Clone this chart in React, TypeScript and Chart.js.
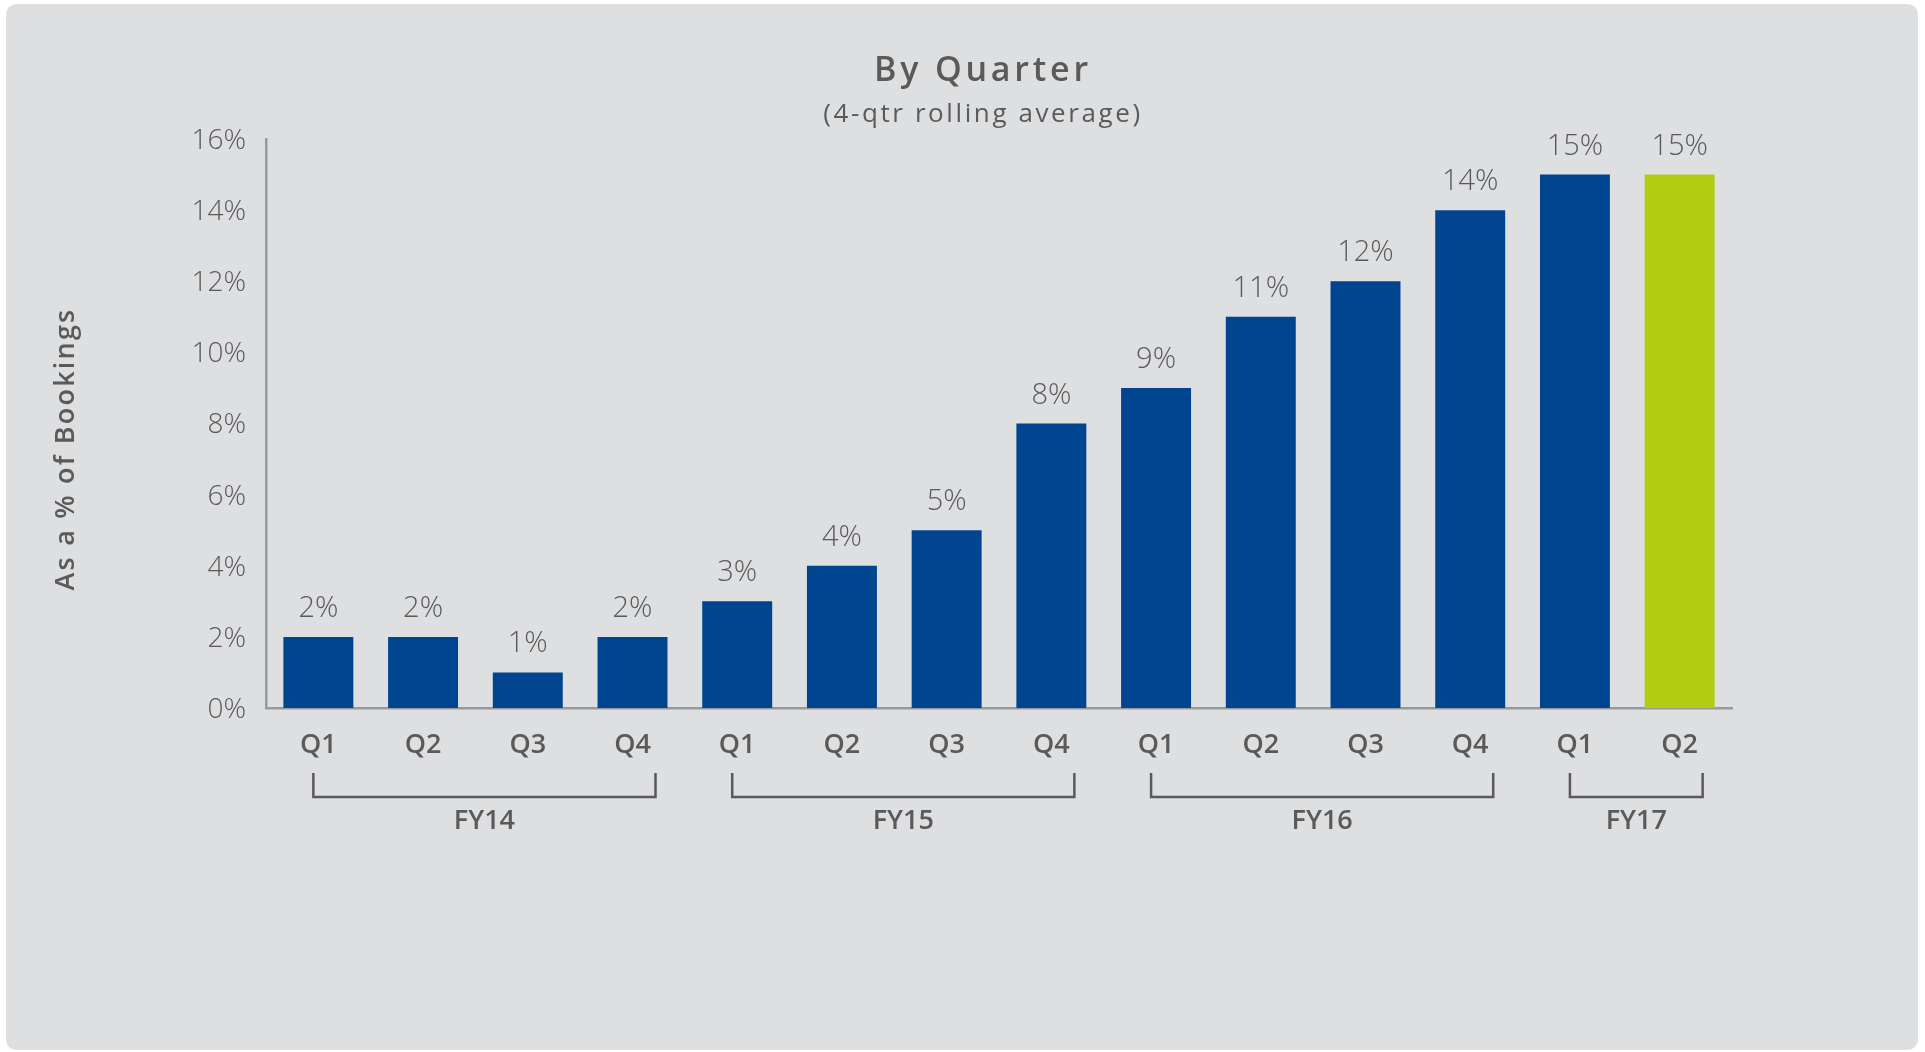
import React, { useEffect, useRef } from 'react';
import { Chart, registerables } from 'chart.js';

Chart.register(...registerables);

// ---- data ----
const quarters = ['Q1', 'Q2', 'Q3', 'Q4', 'Q1', 'Q2', 'Q3', 'Q4', 'Q1', 'Q2', 'Q3', 'Q4', 'Q1', 'Q2'];
const values = [2, 2, 1, 2, 3, 4, 5, 8, 9, 11, 12, 14, 15, 15];
const BLUE = '#01448f';
const GREEN = '#b2cc12';
const barColors = [BLUE, BLUE, BLUE, BLUE, BLUE, BLUE, BLUE, BLUE, BLUE, BLUE, BLUE, BLUE, BLUE, GREEN];
const fiscalYears = ['FY14', 'FY15', 'FY16', 'FY17'];
const fyFirstIndex = [0, 4, 8, 12];
const fyLastIndex = [3, 7, 11, 13];
const yMin = 0;
const yMax = 16;
const yStep = 2;
const titleText = 'By Quarter';
const subtitleText = '(4-qtr rolling average)';
const yTitleText = 'As a % of Bookings';

const FONT = "'Open Sans', sans-serif";
const TEXT = '#5a5a5b';
const AXIS = '#98999d';
const PANEL = '#dedfe1';

const panelPlugin = {
  id: 'panel',
  beforeDraw(chart: any) {
    const ctx = chart.ctx;
    ctx.save();
    ctx.fillStyle = '#ffffff';
    ctx.fillRect(0, 0, chart.width, chart.height);
    const x = 6, y = 4, w = 1912, h = 1046, r = 12;
    ctx.beginPath();
    ctx.moveTo(x + r, y);
    ctx.lineTo(x + w - r, y);
    ctx.quadraticCurveTo(x + w, y, x + w, y + r);
    ctx.lineTo(x + w, y + h - r);
    ctx.quadraticCurveTo(x + w, y + h, x + w - r, y + h);
    ctx.lineTo(x + r, y + h);
    ctx.quadraticCurveTo(x, y + h, x, y + h - r);
    ctx.lineTo(x, y + r);
    ctx.quadraticCurveTo(x, y, x + r, y);
    ctx.closePath();
    ctx.fillStyle = PANEL;
    ctx.fill();
    ctx.restore();
  },
};

const annotationsPlugin = {
  id: 'annotations',
  afterDatasetsDraw(chart: any) {
    const ctx = chart.ctx;
    ctx.save();
    // value labels
    ctx.fillStyle = TEXT;
    ctx.textAlign = 'center';
    ctx.textBaseline = 'alphabetic';
    ctx.font = `300 29px ${FONT}`;
    const meta = chart.getDatasetMeta(0);
    meta.data.forEach((bar: any, i: number) => {
      ctx.fillText(values[i] + '%', bar.x, bar.y - 20);
    });
    ctx.restore();
  },
  afterDraw(chart: any) {
    const ctx = chart.ctx;
    const xs = chart.scales.x;
    ctx.save();
    // title
    ctx.fillStyle = TEXT;
    ctx.textAlign = 'center';
    ctx.textBaseline = 'alphabetic';
    ctx.font = `600 34px ${FONT}`;
    (ctx as any).letterSpacing = '3.8px';
    ctx.fillText(titleText, 983, 81);
    ctx.font = `500 26px ${FONT}`;
    (ctx as any).letterSpacing = '2.6px';
    ctx.fillText(subtitleText, 983, 122);
    (ctx as any).letterSpacing = '0px';

    // y title
    ctx.save();
    ctx.translate(66, 449);
    ctx.rotate(-Math.PI / 2);
    ctx.textBaseline = 'middle';
    ctx.font = `600 27px ${FONT}`;
    (ctx as any).letterSpacing = '2.2px';
    ctx.fillText(yTitleText, 0, 0);
    ctx.restore();
    (ctx as any).letterSpacing = '0px';

    // fiscal year brackets
    ctx.strokeStyle = '#5a5a5c';
    ctx.lineWidth = 2.5;
    ctx.font = `600 27px ${FONT}`;
    fiscalYears.forEach((fy, k) => {
      const left = xs.getPixelForValue(fyFirstIndex[k]) - 5;
      const right = xs.getPixelForValue(fyLastIndex[k]) + 23;
      const top = 773;
      const bottom = 797;
      ctx.beginPath();
      ctx.moveTo(left, top);
      ctx.lineTo(left, bottom);
      ctx.lineTo(right, bottom);
      ctx.lineTo(right, top);
      ctx.stroke();
      ctx.fillText(fy, (left + right) / 2, 829);
    });
    ctx.restore();
  },
};

export default function App() {
  const ref = useRef<HTMLCanvasElement>(null);
  useEffect(() => {
    const canvas = ref.current;
    if (!canvas) return;
    const chart = new Chart(canvas, {
      type: 'bar',
      data: {
        labels: quarters,
        datasets: [
          {
            data: values,
            backgroundColor: barColors,
            barPercentage: 0.668,
            categoryPercentage: 1,
          },
        ],
      },
      options: {
        responsive: false,
        animation: false,
        devicePixelRatio: 1,
        layout: { padding: { top: 139, right: 193, left: 0, bottom: 0 } },
        plugins: {
          legend: { display: false },
          tooltip: { enabled: false },
          title: { display: false },
        },
        scales: {
          x: {
            grid: { display: false, drawTicks: false },
            border: { display: true, color: AXIS, width: 2.5 },
            ticks: {
              color: TEXT,
              font: { family: FONT, size: 27, weight: '600' },
              padding: 21,
              maxRotation: 0,
              autoSkip: false,
            },
            afterFit: (s: any) => {
              s.height = 344;
            },
          },
          y: {
            min: yMin,
            max: yMax,
            grid: { display: false, drawTicks: false },
            border: { display: true, color: AXIS, width: 2.5 },
            ticks: {
              stepSize: yStep,
              color: TEXT,
              font: { family: FONT, size: 28, weight: '300' },
              padding: 20,
              labelOffset: 2,
              callback: (v: any) => v + '%',
            },
            afterFit: (s: any) => {
              s.width = 266;
            },
          },
        },
      },
      plugins: [panelPlugin, annotationsPlugin],
    });
    return () => chart.destroy();
  }, []);
  return (
    <div style={{ position: 'fixed', left: 0, top: 0, width: 1925, height: 1052, background: '#ffffff' }}>
      <canvas ref={ref} width={1925} height={1052} style={{ display: 'block', width: 1925, height: 1052 }} />
    </div>
  );
}
